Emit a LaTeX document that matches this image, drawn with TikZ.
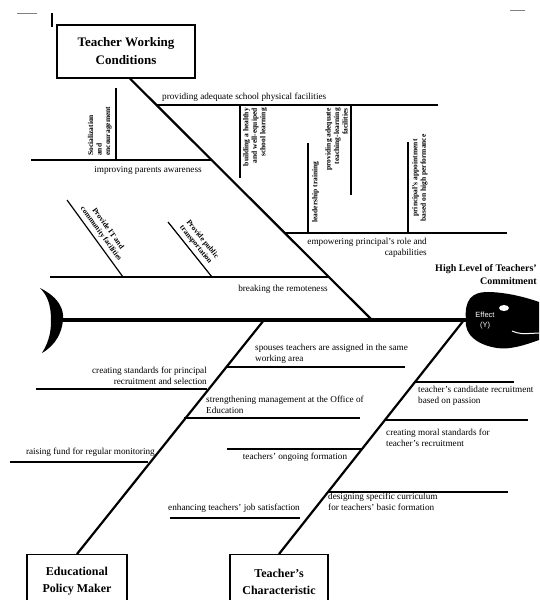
\documentclass[tikz,border=0pt]{standalone}
\usepackage{fontspec}
\setmainfont{Liberation Serif}
\setsansfont{Liberation Sans}
\usetikzlibrary{positioning}

\begin{document}
\begin{tikzpicture}[x=1pt,y=-1pt,
  catbox/.style={draw, line width=1.2pt, align=center, inner sep=0pt,
    font=\bfseries\fontsize{12}{17}\selectfont},
  cause/.style={inner sep=0pt, font=\fontsize{9.2}{11}\selectfont},
  vcause/.style={inner sep=0pt, rotate=90, font=\bfseries\fontsize{7.5}{8.5}\selectfont},
  dcause/.style={inner sep=0pt, anchor=south, align=center,
    font=\bfseries\fontsize{7.5}{8.5}\selectfont},
  bone/.style={line width=2.2pt},
  twig/.style={line width=1.2pt}]
  \useasboundingbox (0,0) rectangle (539,600);
  \clip (0,0) rectangle (539,600);

  % crop marks
  \draw[gray, line width=0.6pt] (17,13) -- (37,13);
  \draw[line width=2.5pt] (52,13) -- (52,27);
  \draw[gray, line width=0.6pt] (510,10) -- (525,10);

  % categories
  \node[catbox, minimum width=138, minimum height=53,
    font=\bfseries\fontsize{13}{18}\selectfont] (wc) at (126,51.5) {Teacher Working\\Conditions};
  \node[catbox, anchor=north, minimum width=100, minimum height=54] (pm) at (77,554) {Educational\\Policy Maker};
  \node[catbox, anchor=north, minimum width=98, minimum height=54] (tc) at (279,554) {Teacher's\\Characteristic};

  % spine, tail and head
  \coordinate (tail) at (60,320);
  \coordinate (mouth) at (466,320);
  \fill (40,288) .. controls (60,298) and (64,310) .. (63,320)
    .. controls (62,332) and (56,345) .. (42,353)
    .. controls (50,340) and (51,330) .. (51,320)
    .. controls (51,306) and (48,296) .. (40,288) -- cycle;
  \fill (mouth) .. controls (464,300) and (472,292) .. (487,292)
    .. controls (505,292) and (525,297) .. (539,302) -- (539,340)
    .. controls (525,345) and (510,350) .. (497,348)
    .. controls (478,345) and (464,335) .. (mouth) -- cycle;
  \draw[line width=4.5pt] (tail) -- (mouth);
  \fill[white] (504,308) ellipse [x radius=5pt, y radius=3pt];
  \draw[white, line width=1pt] (512,331) .. controls (520,334) .. (539,333);
  \node[text=white, align=center, inner sep=0pt,
    font=\sffamily\fontsize{7.5}{10}\selectfont] (eff) at (485,321) {Effect\\(Y)};
  \node[anchor=north east, align=right, inner sep=0pt,
    font=\bfseries\fontsize{10}{13}\selectfont] (goal) at (537,264) {High Level of Teachers'\\Commitment};

  % main bones
  \coordinate (wcend) at (372,320);
  \coordinate (pmend) at (264,320);
  \coordinate (tcend) at (464,320);
  \draw[bone] ([xshift=4pt]wc.south) -- (wcend);
  \draw[bone] (pm.north) -- (pmend);
  \draw[bone] (tc.north) -- (tcend);

  % Teacher Working Conditions
  \coordinate (a1) at (157,105);  \coordinate (a1e) at (438,105);
  \coordinate (a1x) at (240,105); \coordinate (a1xe) at (240,178);
  \coordinate (a1y) at (351,105); \coordinate (a1ye) at (351,195);
  \coordinate (a2) at (31,160);   \coordinate (a2e) at (212,160);
  \coordinate (a2x) at (116,160); \coordinate (a2xe) at (116,88);
  \coordinate (a3) at (285,233);  \coordinate (a3e) at (507,233);
  \coordinate (a3x) at (308,233); \coordinate (a3xe) at (308,143);
  \coordinate (a3y) at (408,233); \coordinate (a3ye) at (408,142);
  \coordinate (a4) at (50,277);   \coordinate (a4e) at (329,277);
  \coordinate (a4x) at (67,200);  \coordinate (a4xe) at (123,277);
  \coordinate (a4y) at (168,222); \coordinate (a4ye) at (212,277);

  \node[cause, anchor=south west] (a1t) at (162,102) {providing adequate school physical facilities};
  \node[vcause, anchor=north east, align=right] (a1xt) at (243,108) {building a healthy\\and well-equiped\\school learning};
  \node[vcause, anchor=south east, align=right] (a1yt) at (348,108) {providing adequate\\teaching-learning\\facilities};
  \node[cause, anchor=north] (a2t) at (148,166) {improving parents awareness};
  \node[vcause, anchor=south west, align=left] (a2xt) at (112,156) {Socialization\\and\\encouragement};
  \node[cause, anchor=north east, align=right] (a3t) at (427,238) {empowering principal's role and\\capabilities};
  \node[vcause, anchor=north] (a3xt) at (312,192) {leadership training};
  \node[vcause, anchor=north, align=center] (a3yt) at (412,178) {principal's appointment\\based on high performance};
  \node[cause, anchor=north] (a4t) at (283,285) {breaking the remoteness};
  \node[dcause, rotate=-54] (a4xt) at (98,236) {Provide IT and\\community facilities};
  \node[dcause, rotate=-51] (a4yt) at (193,247) {Provide public\\transportation};

  % Educational Policy Maker
  \coordinate (b1) at (226,367);  \coordinate (b1e) at (405,367);
  \coordinate (b2) at (36,389);   \coordinate (b2e) at (207,389);
  \coordinate (b3) at (184,418);  \coordinate (b3e) at (360,418);
  \coordinate (b4) at (10,462);   \coordinate (b4e) at (148,462);
  \coordinate (b5) at (227,449);  \coordinate (b5e) at (363,449);
  \coordinate (b6) at (170,518);  \coordinate (b6e) at (300,518);

  \node[cause, anchor=south west, align=left] (b1t) at (255,364) {spouses teachers are assigned in the same\\working area};
  \node[cause, anchor=south east, align=right] (b2t) at (207,385) {creating standards for principal\\recruitment and selection};
  \node[cause, anchor=south west, align=left] (b3t) at (206,414) {strengthening management at the Office of\\Education};
  \node[cause, anchor=south east] (b4t) at (155,457) {raising fund for regular monitoring};
  \node[cause, anchor=north] (b5t) at (295,453) {teachers' ongoing formation};
  \node[cause, anchor=south] (b6t) at (234,513) {enhancing teachers' job satisfaction};

  % Teacher's Characteristic
  \coordinate (c1) at (415,382);  \coordinate (c1e) at (514,382);
  \coordinate (c2) at (385,420);  \coordinate (c2e) at (528,420);
  \coordinate (c3) at (327,492);  \coordinate (c3e) at (508,492);

  \node[cause, anchor=north west, align=left] (c1t) at (418,386) {teacher's candidate recruitment\\based on passion};
  \node[cause, anchor=north west, align=left] (c2t) at (386,429) {creating moral standards for\\teacher's recruitment};
  \node[cause, anchor=north west, align=left] (c3t) at (328,493) {designing specific curriculum\\for teachers' basic formation};

  % sub-causes
  \foreach \p in {a1,a1x,a1y,a2,a2x,a3,a3x,a3y,a4,a4x,a4y,b1,b2,b3,b4,b5,b6,c1,c2,c3}
    \draw[twig] (\p) -- (\p e);
\end{tikzpicture}
\end{document}
